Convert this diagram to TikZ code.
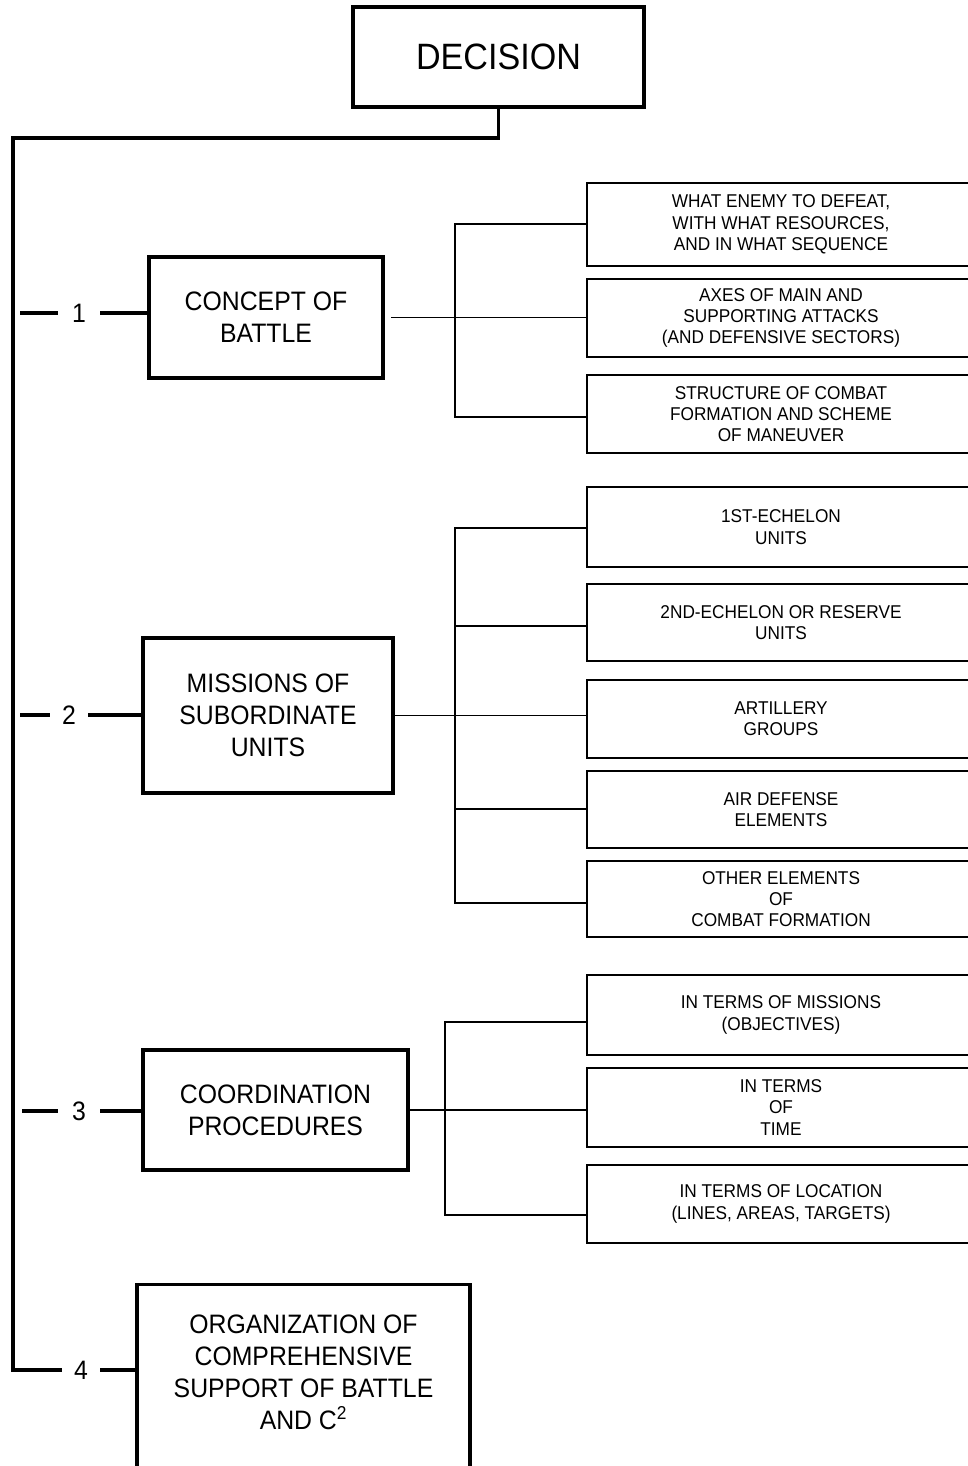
\documentclass[tikz,border=0pt]{standalone}
\usepackage{fontspec}
\setmainfont{Liberation Sans}[FakeStretch=0.93]
\usetikzlibrary{calc}
\begin{document}
\begin{tikzpicture}[x=0.75pt,y=-0.75pt,
  thickline/.style={line width=2.4pt},
  thinline/.style={line width=1.1pt},
  mainbox/.style={draw,line width=2.4pt,align=center,inner sep=0pt,
    font=\fontsize{20}{24}\selectfont},
  subbox/.style={draw,line width=1.5pt,align=center,inner sep=0pt,
    minimum width=291pt,font=\fontsize{13.9}{16}\selectfont},
  numlabel/.style={inner sep=0pt,font=\fontsize{20}{24}\selectfont}]
\useasboundingbox (0,0) rectangle (967,1466);

% top of the tree
\node[mainbox,minimum width=218.25pt,minimum height=75pt,
  font=\fontsize{27.5}{30}\selectfont] (dec) at (498.5,57) {DECISION};
\coordinate (ttop) at (498.5,138);
\coordinate (tleft) at (13,138);
\coordinate (tend) at (13,1370);

% four main branches
\node[mainbox,minimum width=175.5pt,minimum height=90.75pt] (concept) at (266,317.5) {CONCEPT OF\\BATTLE};
\node[mainbox,minimum width=187.5pt,minimum height=116.25pt] (missions) at (268,715.5) {MISSIONS OF\\SUBORDINATE\\UNITS};
\node[mainbox,minimum width=198.75pt,minimum height=90pt] (coord) at (275.5,1110) {COORDINATION\\PROCEDURES};
\node[mainbox,minimum width=249.75pt,minimum height=147.75pt,anchor=north] (org) at (303.5,1283) {};
\node[align=center,inner sep=0pt,font=\fontsize{20}{24}\selectfont] (orgtext) at (303.5,1372)
  {ORGANIZATION OF\\COMPREHENSIVE\\SUPPORT OF BATTLE\\AND C\textsuperscript{2}};

% numbers on the branches
\node[numlabel,minimum width=31.5pt] (n1) at (79,313) {1};
\node[numlabel,minimum width=28.5pt] (n2) at (69,715) {2};
\node[numlabel,minimum width=31.5pt] (n3) at (79,1111) {3};
\node[numlabel,minimum width=28.5pt] (n4) at (81,1370) {4};
\coordinate (d1) at (20,313);
\coordinate (d2) at (20,715);
\coordinate (d3) at (22,1111);

% concept of battle
\node[subbox,minimum height=62.25pt] (what) at (781,224.5) {WHAT ENEMY TO DEFEAT,\\WITH WHAT RESOURCES,\\AND IN WHAT SEQUENCE};
\node[subbox,minimum height=58.5pt] (axes) at (781,318) {AXES OF MAIN AND\\SUPPORTING ATTACKS\\(AND DEFENSIVE SECTORS)};
\node[subbox,minimum height=58.5pt] (struct) at (781,414) {STRUCTURE OF COMBAT\\FORMATION AND SCHEME\\OF MANEUVER};

% missions of subordinate units
\node[subbox,minimum height=60pt] (first) at (781,527) {1ST-ECHELON\\UNITS};
\node[subbox,minimum height=57.75pt] (second) at (781,622.5) {2ND-ECHELON OR RESERVE\\UNITS};
\node[subbox,minimum height=58.5pt] (art) at (781,719) {ARTILLERY\\GROUPS};
\node[subbox,minimum height=57.75pt] (air) at (781,809.5) {AIR DEFENSE\\ELEMENTS};
\node[subbox,minimum height=57pt] (other) at (781,899) {OTHER ELEMENTS\\OF\\COMBAT FORMATION};

% coordination procedures
\node[subbox,minimum height=60pt] (obj) at (781,1015) {IN TERMS OF MISSIONS\\(OBJECTIVES)};
\node[subbox,minimum height=59.25pt] (time) at (781,1107.5) {IN TERMS\\OF\\TIME};
\node[subbox,minimum height=58.5pt] (loc) at (781,1204) {IN TERMS OF LOCATION\\(LINES, AREAS, TARGETS)};

% trunk
\draw[thickline] (dec.south) -- (ttop) -- (tleft) -- (tend) -- (n4.west);
\draw[thickline] (n4.east) -- (n4.east -| org.west);
\draw[thickline] (d1) -- (n1.west);
\draw[thickline] (n1.east) -- (n1.east -| concept.west);
\draw[thickline] (d2) -- (n2.west);
\draw[thickline] (n2.east) -- (n2.east -| missions.west);
\draw[thickline] (d3) -- (n3.west);
\draw[thickline] (n3.east) -- (n3.east -| coord.west);

% buses to the detail boxes
\coordinate (b1a) at (455,224);
\coordinate (b1c) at (455,417);
\draw[thinline,shorten <=5pt] (concept.east) -- (concept.east -| axes.west);
\draw[thinline] (b1a -| what.west) -- (b1a) -- (b1c) -- (b1c -| struct.west);

\coordinate (b2a) at (455,528);
\coordinate (b2b) at (455,626);
\coordinate (b2d) at (455,809);
\coordinate (b2e) at (455,903);
\draw[thinline] (missions.east) -- (missions.east -| art.west);
\draw[thinline] (b2a -| first.west) -- (b2a) -- (b2e) -- (b2e -| other.west);
\draw[thinline] (b2b) -- (b2b -| second.west);
\draw[thinline] (b2d) -- (b2d -| air.west);

\coordinate (b3a) at (445,1022);
\coordinate (b3c) at (445,1215);
\draw[thinline] (coord.east) -- (coord.east -| time.west);
\draw[thinline] (b3a -| obj.west) -- (b3a) -- (b3c) -- (b3c -| loc.west);
\end{tikzpicture}
\end{document}
